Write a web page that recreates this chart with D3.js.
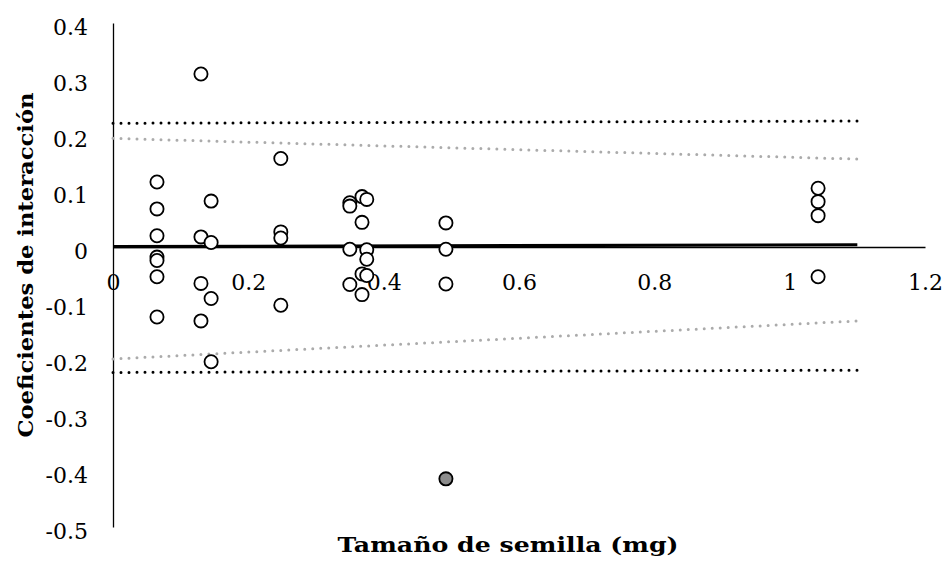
<!DOCTYPE html>
<html>
<head>
<meta charset="utf-8">
<script src="https://cdn.jsdelivr.net/npm/d3@7"></script>
<style>
  html, body { margin: 0; padding: 0; background: #fff; }
  svg { display: block; }
  .tick-label { font-family: "DejaVu Serif", serif; font-size: 22px; fill: #000; }
  .axis-title { font-family: "DejaVu Serif", serif; font-weight: bold; font-size: 21px; fill: #000; }
</style>
</head>
<body>
<svg id="chart" width="944" height="563"></svg>
<script>
// ---- Data ----
const seedSize = [
  0.065, 0.065, 0.065, 0.065, 0.065, 0.065, 0.065,
  0.130, 0.130, 0.130, 0.130,
  0.145, 0.145, 0.145, 0.145,
  0.248, 0.248, 0.248, 0.248,
  0.350, 0.350, 0.350, 0.350,
  0.368, 0.368, 0.368, 0.368,
  0.375, 0.375, 0.375, 0.375,
  0.492, 0.492, 0.492,
  1.042, 1.042, 1.042, 1.042
];
const interaction = [
  0.116, 0.068, 0.020, -0.018, -0.024, -0.053, -0.125,
  0.309, 0.018, -0.065, -0.132,
  0.082, 0.008, -0.092, -0.205,
  0.158, 0.027, 0.016, -0.104,
  0.079, 0.073, -0.004, -0.067,
  0.090, 0.044, -0.048, -0.085,
  0.085, -0.005, -0.022, -0.051,
  0.043, -0.004, -0.066,
  0.105, 0.081, 0.056, -0.053
];
const outlierX = [0.492];
const outlierY = [-0.414];

const lineX = [0, 1.1];
const fitLine = [0.0005, 0.004];
const upperBlack = [0.221, 0.225];
const lowerBlack = [-0.224, -0.220];
const upperGray = [0.194, 0.157];
const lowerGray = [-0.200, -0.132];

const xTicks = [0, 0.2, 0.4, 0.6, 0.8, 1, 1.2];
const yTicks = [0.4, 0.3, 0.2, 0.1, 0, -0.1, -0.2, -0.3, -0.4, -0.5];
const xTitle = "Tamaño de semilla (mg)";
const yTitle = "Coeficientes de interacción";

// ---- Scales ----
const svg = d3.select("#chart");
const x = d3.scaleLinear().domain([0, 1.2]).range([113, 925]);
const y = d3.scaleLinear().domain([-0.5, 0.4]).range([527, 23]);

const fmt = d => String(+(+d).toFixed(1));

// Y axis (vertical line at x=0, no ticks)
const yAxis = d3.axisLeft(y).tickValues(yTicks).tickSize(0).tickPadding(0).tickFormat(fmt);
const gy = svg.append("g").attr("transform", `translate(${x(0)},0)`).call(yAxis);
gy.select(".domain").attr("stroke", "#000").attr("stroke-width", 1.3);
gy.selectAll(".tick text")
  .attr("class", "tick-label")
  .attr("x", -25)
  .attr("dy", "0.32em")
  .attr("transform", "translate(0,4)");

// X axis (horizontal line at y=0, no ticks)
const xAxis = d3.axisBottom(x).tickValues(xTicks).tickSize(0).tickPadding(0).tickFormat(fmt);
const gx = svg.append("g").attr("transform", `translate(0,${y(0)})`).call(xAxis);
gx.select(".domain").attr("stroke", "#000").attr("stroke-width", 1.3);
gx.selectAll(".tick text")
  .attr("class", "tick-label")
  .attr("y", 36)
  .attr("dy", "0.32em");
svg.selectAll("g").attr("font-size", null).attr("font-family", null);

// ---- Lines ----
const lineGen = vals => d3.line().x((d, i) => x(lineX[i])).y(d => y(d))(vals);

function dotted(vals, color) {
  svg.append("path").attr("d", lineGen(vals))
    .attr("fill", "none").attr("stroke", color).attr("stroke-width", 3)
    .attr("stroke-linecap", "round").attr("stroke-dasharray", "0,8");
}
dotted(upperGray, "#ababab");
dotted(lowerGray, "#ababab");
dotted(upperBlack, "#000");
dotted(lowerBlack, "#000");
svg.append("path").attr("d", lineGen(fitLine))
  .attr("fill", "none").attr("stroke", "#000").attr("stroke-width", 3.2);

// ---- Points ----
svg.append("g").selectAll("circle")
  .data(seedSize.map((s, i) => [s, interaction[i]]))
  .join("circle")
  .attr("cx", d => x(d[0])).attr("cy", d => y(d[1]))
  .attr("r", 6.6)
  .attr("fill", "#fff").attr("stroke", "#000").attr("stroke-width", 1.8);

svg.append("g").selectAll("circle")
  .data(outlierX.map((s, i) => [s, outlierY[i]]))
  .join("circle")
  .attr("cx", d => x(d[0])).attr("cy", d => y(d[1]))
  .attr("r", 6.6)
  .attr("fill", "#8c8c8c").attr("stroke", "#000").attr("stroke-width", 1.8);

// ---- Titles ----
svg.append("text").attr("class", "axis-title")
  .attr("x", 508).attr("y", 552)
  .attr("text-anchor", "middle")
  .attr("textLength", 341).attr("lengthAdjust", "spacingAndGlyphs")
  .text(xTitle);

svg.append("text").attr("class", "axis-title")
  .attr("transform", "translate(33,265) rotate(-90)")
  .attr("text-anchor", "middle")
  .attr("textLength", 345).attr("lengthAdjust", "spacingAndGlyphs")
  .text(yTitle);
</script>
</body>
</html>
